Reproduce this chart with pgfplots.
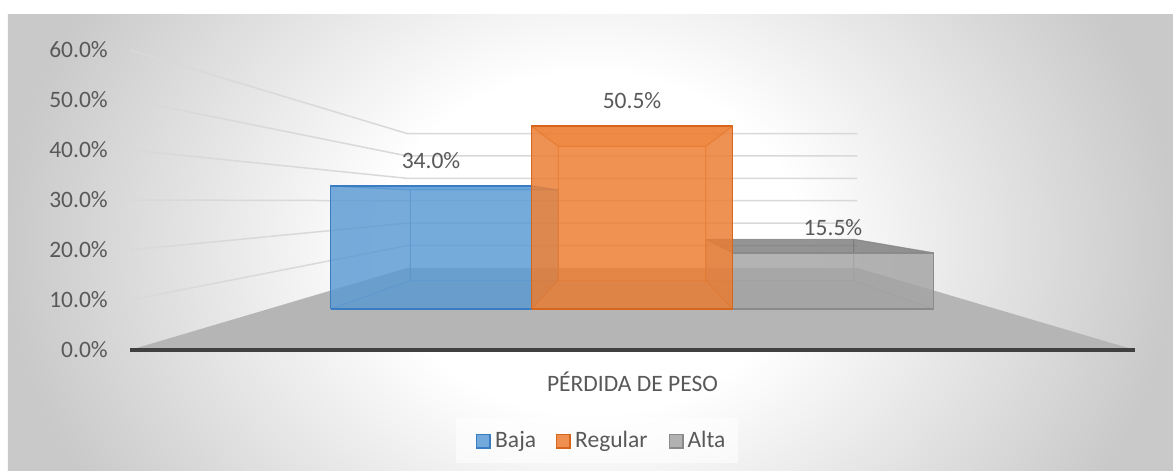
\documentclass[border=0pt]{standalone}
\usepackage{pgfplots}
\pgfplotsset{compat=1.18}
\usepackage{fontspec}
\setmainfont{Carlito}
\definecolor{txt}{HTML}{595959}
\definecolor{cBaja}{HTML}{5B9BD5}
\definecolor{cReg}{HTML}{ED7D31}
\definecolor{cAlta}{HTML}{A5A5A5}
\definecolor{bBaja}{HTML}{3A7CC2}
\definecolor{bReg}{HTML}{D5661C}
\definecolor{bAlta}{HTML}{8A8A8A}
\definecolor{floorc}{HTML}{B5B5B5}
\definecolor{gridc}{HTML}{D9D9D9}
\definecolor{axc}{HTML}{404040}
\pgfdeclareradialshading{bgshade}{\pgfpoint{0bp}{0bp}}{color(0bp)=(white); color(9bp)=(white); color(25bp)=(gray!42); color(50bp)=(gray!42)}
\newcommand\lbl{\fontsize{23.6}{28}\selectfont}
\def\sF{0.724}\def\sB{0.533}\def\vz{29.72}\def\hw{138.8}
% #1 centre (front plane), #2 value, #3 fill, #4 edge, #5 top-face fill, #6 label
\newcommand\drawbar[6]{%
  \pgfmathsetmacro\xlf{632+\sF*(#1-\hw-632)}%
  \pgfmathsetmacro\xrf{632+\sF*(#1+\hw-632)}%
  \pgfmathsetmacro\xlb{632+\sB*(#1-\hw-632)}%
  \pgfmathsetmacro\xrb{632+\sB*(#1+\hw-632)}%
  \pgfmathsetmacro\xcf{632+\sF*(#1-632)}%
  \pgfmathsetmacro\ybf{\vz*(1-\sF)}%
  \pgfmathsetmacro\ytf{\vz+\sF*(#2-\vz)}%
  \pgfmathsetmacro\ybb{\vz*(1-\sB)}%
  \pgfmathsetmacro\ytb{\vz+\sB*(#2-\vz)}%
  \edef\tmp{%
    \noexpand\addplot[forget plot, mark=none, line join=round, draw=#4, draw opacity=0.45, line width=1bp, fill=#3, fill opacity=0.35] coordinates {(\xlb,\ybb) (\xrb,\ybb) (\xrb,\ytb) (\xlb,\ytb) (\xlb,\ybb)};
    \noexpand\addplot[forget plot, mark=none, draw=none, fill=#3!80!black, fill opacity=0.3] coordinates {(\xlf,\ybf) (\xrf,\ybf) (\xrb,\ybb) (\xlb,\ybb)};
    \noexpand\addplot[forget plot, mark=none, line join=round, draw=#4, draw opacity=0.45, line width=1bp, fill=#3!90!black, fill opacity=0.3] coordinates {(\xlf,\ybf) (\xlb,\ybb) (\xlb,\ytb) (\xlf,\ytf)};
    \noexpand\addplot[forget plot, mark=none, line join=round, draw=#4, draw opacity=0.45, line width=1bp, fill=#3!90!black, fill opacity=0.3] coordinates {(\xrf,\ybf) (\xrb,\ybb) (\xrb,\ytb) (\xrf,\ytf)};
    \noexpand\addplot[forget plot, mark=none, line join=round, draw=#4, draw opacity=0.6, line width=1bp, fill=#5, fill opacity=0.6] coordinates {(\xlf,\ytf) (\xrf,\ytf) (\xrb,\ytb) (\xlb,\ytb) (\xlf,\ytf)};
    \noexpand\addplot[forget plot, mark=none, line join=round, draw=#4, line width=1.6bp, fill=#3, fill opacity=0.75] coordinates {(\xlf,\ybf) (\xrf,\ybf) (\xrf,\ytf) (\xlf,\ytf) (\xlf,\ybf)};
    \noexpand\addplot[forget plot, draw=none, mark=none, point meta=explicit symbolic, nodes near coords=\noexpand\pgfplotspointmeta, nodes near coords style={anchor=base, inner sep=0pt, yshift=17.7bp, font=\noexpand\lbl, text=txt}] coordinates {(\xcf,\ytf) [#6]};
  }\tmp}
\begin{document}
\begin{tikzpicture}
\begin{scope}[x=1bp,y=-1bp,shift={(-130bp,350bp)}]
  \fill[white] (0,0) rectangle (1173,471);
  \begin{scope}
    \clip (8,15) rectangle (1173,471);
    \shade[shading=bgshade] (8,-230) rectangle (1173,716);
  \end{scope}
\end{scope}
\begin{axis}[
  x=1bp, y=5bp, xmin=130, xmax=1135, ymin=0, ymax=60,
  clip=false, axis line style={draw=none}, tick style={draw=none},
  xtick=\empty, ytick={0,10,...,60},
  /pgf/number format/assume math mode=true,
  yticklabel={\pgfmathprintnumber[fixed,fixed zerofill,precision=1]{\tick}\%},
  yticklabel style={font=\lbl, text=txt, inner sep=0pt, anchor=east, xshift=-22bp},
]
% gridlines (left wall + back wall)
\addplot[forget plot, mark=none, gridc, line width=1.5bp] coordinates {(130,10) (407.1,20.89) (857.3,20.89)};
\addplot[forget plot, mark=none, gridc, line width=1.5bp] coordinates {(130,20) (407.1,25.37) (857.3,25.37)};
\addplot[forget plot, mark=none, gridc, line width=1.5bp] coordinates {(130,30) (407.1,29.85) (857.3,29.85)};
\addplot[forget plot, mark=none, gridc, line width=1.5bp] coordinates {(130,40) (407.1,34.33) (857.3,34.33)};
\addplot[forget plot, mark=none, gridc, line width=1.5bp] coordinates {(130,50) (407.1,38.81) (857.3,38.81)};
\addplot[forget plot, mark=none, gridc, line width=1.5bp] coordinates {(130,60) (407.1,43.29) (857.3,43.29)};
% floor
\addplot[forget plot, mark=none, draw=none, fill=floorc] coordinates {(130,0) (1135,0) (857.3,16.41) (407.1,16.41)};
% bars
\drawbar{354.4}{34.0}{cBaja}{bBaja}{cBaja}{34.0\%}
\drawbar{909.6}{15.5}{cAlta}{bAlta}{cAlta!60!black}{15.5\%}
\drawbar{632}{50.5}{cReg}{bReg}{cReg}{50.5\%}
% axis line
\addplot[forget plot, mark=none, axc, line width=3.5bp] coordinates {(130,0) (1135,0)};
\end{axis}
\begin{scope}[x=1bp,y=-1bp,shift={(-130bp,350bp)}]
  \node[anchor=base, inner sep=0pt, text=txt, font=\lbl] at (632.5,391.7) {PÉRDIDA DE PESO};
  \fill[white, fill opacity=0.6] (456,418.3) rectangle (738,463.3);
  \filldraw[fill=cBaja!85!white, draw=bBaja, line width=1.3bp] (476.7,434.7) rectangle (490,448);
  \node[anchor=base west, inner sep=0pt, text=txt, font=\lbl] at (495,447.3) {Baja};
  \filldraw[fill=cReg!85!white, draw=bReg, line width=1.3bp] (556.7,434.7) rectangle (570,448);
  \node[anchor=base west, inner sep=0pt, text=txt, font=\lbl] at (575,447.3) {Regular};
  \filldraw[fill=cAlta!85!white, draw=bAlta, line width=1.3bp] (669.7,434.7) rectangle (683,448);
  \node[anchor=base west, inner sep=0pt, text=txt, font=\lbl] at (687.3,447.3) {Alta};
\end{scope}
\end{tikzpicture}
\end{document}
